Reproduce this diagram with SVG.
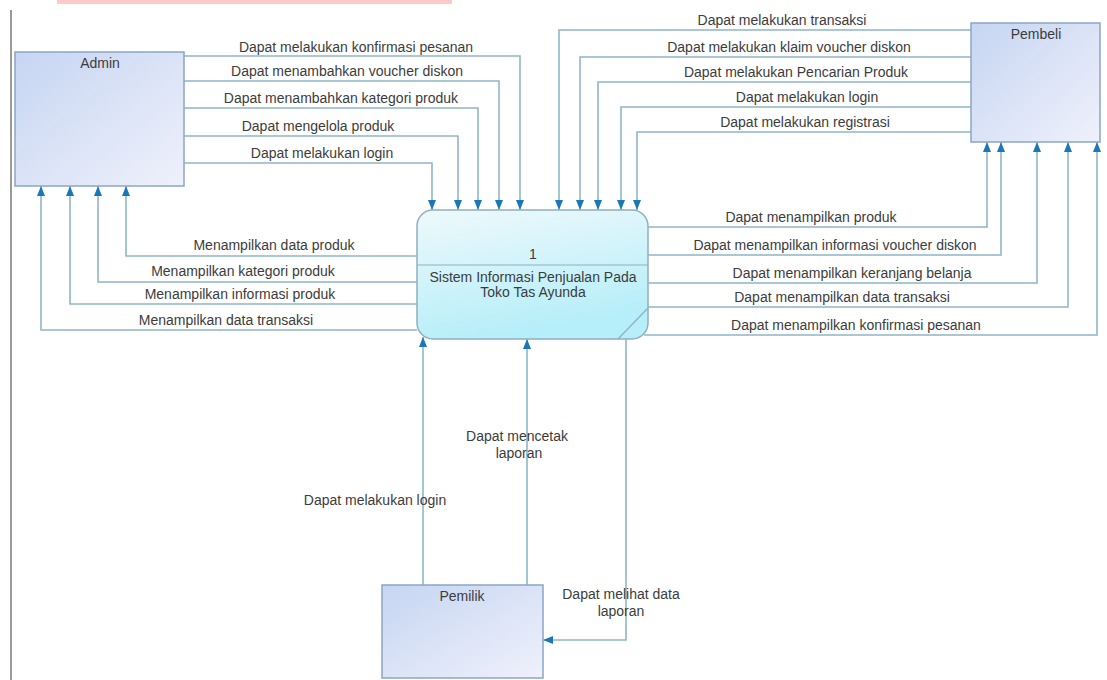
<svg xmlns="http://www.w3.org/2000/svg" width="1107" height="680" viewBox="0 0 1107 680">
<defs>
<linearGradient id="gEnt" x1="0" y1="0" x2="1" y2="1">
<stop offset="0" stop-color="#c6d5f2"/>
<stop offset="1" stop-color="#eff1fb"/>
</linearGradient>
<linearGradient id="gProc" x1="0" y1="0" x2="0.3" y2="1">
<stop offset="0" stop-color="#eef9fc"/>
<stop offset="1" stop-color="#b6eef9"/>
</linearGradient>
<marker id="ah" markerUnits="userSpaceOnUse" viewBox="0 0 10 8" refX="10" refY="4" markerWidth="10" markerHeight="8" orient="auto">
<path d="M0,0 L10,4 L0,8 z" fill="#1b78b8"/>
</marker>
</defs>
<style>
.ent{fill:url(#gEnt);stroke:#8aa6c6;stroke-width:1.5}
.proc{fill:url(#gProc);stroke:#8fb0bc;stroke-width:1.5}
.flow{fill:none;stroke:#8fb7c6;stroke-width:1.6;marker-end:url(#ah)}
.sep{fill:none;stroke:#8fb0bc;stroke-width:1.2}
text{font-family:"Liberation Sans",Arial,sans-serif;font-size:14px;fill:#3c3c3c}
.lbl{text-anchor:middle}
</style>
<rect x="57" y="0" width="395" height="4" fill="#fdc9c9"/>
<line x1="11" y1="10" x2="11" y2="680" stroke="#9a9a9a" stroke-width="2"/>

<g id="connectors">
<!-- Admin to process -->
<path class="flow" d="M184,56 H520 V210"/>
<path class="flow" d="M184,81 H499 V210"/>
<path class="flow" d="M184,108 H478 V210"/>
<path class="flow" d="M184,136 H458 V210"/>
<path class="flow" d="M184,163 H432 V210"/>
<!-- Pembeli to process -->
<path class="flow" d="M971,30 H559 V210"/>
<path class="flow" d="M971,57 H580 V210"/>
<path class="flow" d="M971,82 H598 V210"/>
<path class="flow" d="M971,107 H621 V210"/>
<path class="flow" d="M971,132 H637 V210"/>
<!-- process to Admin -->
<path class="flow" d="M417,256 H126 V186"/>
<path class="flow" d="M417,282 H98 V186"/>
<path class="flow" d="M417,304 H70 V186"/>
<path class="flow" d="M417,330 H41 V186"/>
<!-- process to Pembeli -->
<path class="flow" d="M648,227 H987 V142"/>
<path class="flow" d="M648,255 H1001 V142"/>
<path class="flow" d="M648,283 H1037 V142"/>
<path class="flow" d="M648,307 H1068 V142"/>
<path class="flow" d="M644,335 H1097 V142"/>
<!-- Pemilik -->
<path class="flow" d="M423,585 V337"/>
<path class="flow" d="M527,585 V339"/>
<path class="flow" d="M626,339 V640 H543"/>

<text class="lbl" x="356" y="52">Dapat melakukan konfirmasi pesanan</text>
<text class="lbl" x="347" y="76">Dapat menambahkan voucher diskon</text>
<text class="lbl" x="341" y="103">Dapat menambahkan kategori produk</text>
<text class="lbl" x="318" y="131">Dapat mengelola produk</text>
<text class="lbl" x="322" y="158">Dapat melakukan login</text>

<text class="lbl" x="782" y="25">Dapat melakukan transaksi</text>
<text class="lbl" x="789" y="52">Dapat melakukan klaim voucher diskon</text>
<text class="lbl" x="796" y="77">Dapat melakukan Pencarian Produk</text>
<text class="lbl" x="807" y="102">Dapat melakukan login</text>
<text class="lbl" x="805" y="127">Dapat melakukan registrasi</text>

<text class="lbl" x="274" y="250">Menampilkan data produk</text>
<text class="lbl" x="243" y="276">Menampilkan kategori produk</text>
<text class="lbl" x="240" y="299">Menampilkan informasi produk</text>
<text class="lbl" x="226" y="325">Menampilkan data transaksi</text>

<text class="lbl" x="811" y="222">Dapat menampilkan produk</text>
<text class="lbl" x="835" y="250">Dapat menampilkan informasi voucher diskon</text>
<text class="lbl" x="852" y="278">Dapat menampilkan keranjang belanja</text>
<text class="lbl" x="842" y="302">Dapat menampilkan data transaksi</text>
<text class="lbl" x="856" y="330">Dapat menampilkan konfirmasi pesanan</text>

<text class="lbl" x="375" y="505">Dapat melakukan login</text>
<text class="lbl" x="517" y="441">Dapat mencetak</text>
<text class="lbl" x="519" y="458">laporan</text>
<text class="lbl" x="621" y="599">Dapat melihat data</text>
<text class="lbl" x="621" y="616">laporan</text>
</g>

<g id="admin">
<rect class="ent" x="15" y="52" width="169" height="134"/>
<text class="lbl" x="100" y="68">Admin</text>
</g>

<g id="pembeli">
<rect class="ent" x="971" y="23" width="129" height="119"/>
<text class="lbl" x="1036" y="39">Pembeli</text>
</g>

<g id="pemilik">
<rect class="ent" x="382" y="585" width="161" height="93"/>
<text class="lbl" x="462" y="601">Pemilik</text>
</g>

<g id="proses">
<rect class="proc" x="417" y="210" width="231" height="129" rx="16" ry="16"/>
<line class="sep" x1="417" y1="265" x2="648" y2="265"/>
<line class="sep" x1="618" y1="339" x2="648" y2="308"/>
<text class="lbl" x="533" y="259">1</text>
<text class="lbl" x="533" y="282">Sistem Informasi Penjualan Pada</text>
<text class="lbl" x="533" y="297">Toko Tas Ayunda</text>
</g>
</svg>
